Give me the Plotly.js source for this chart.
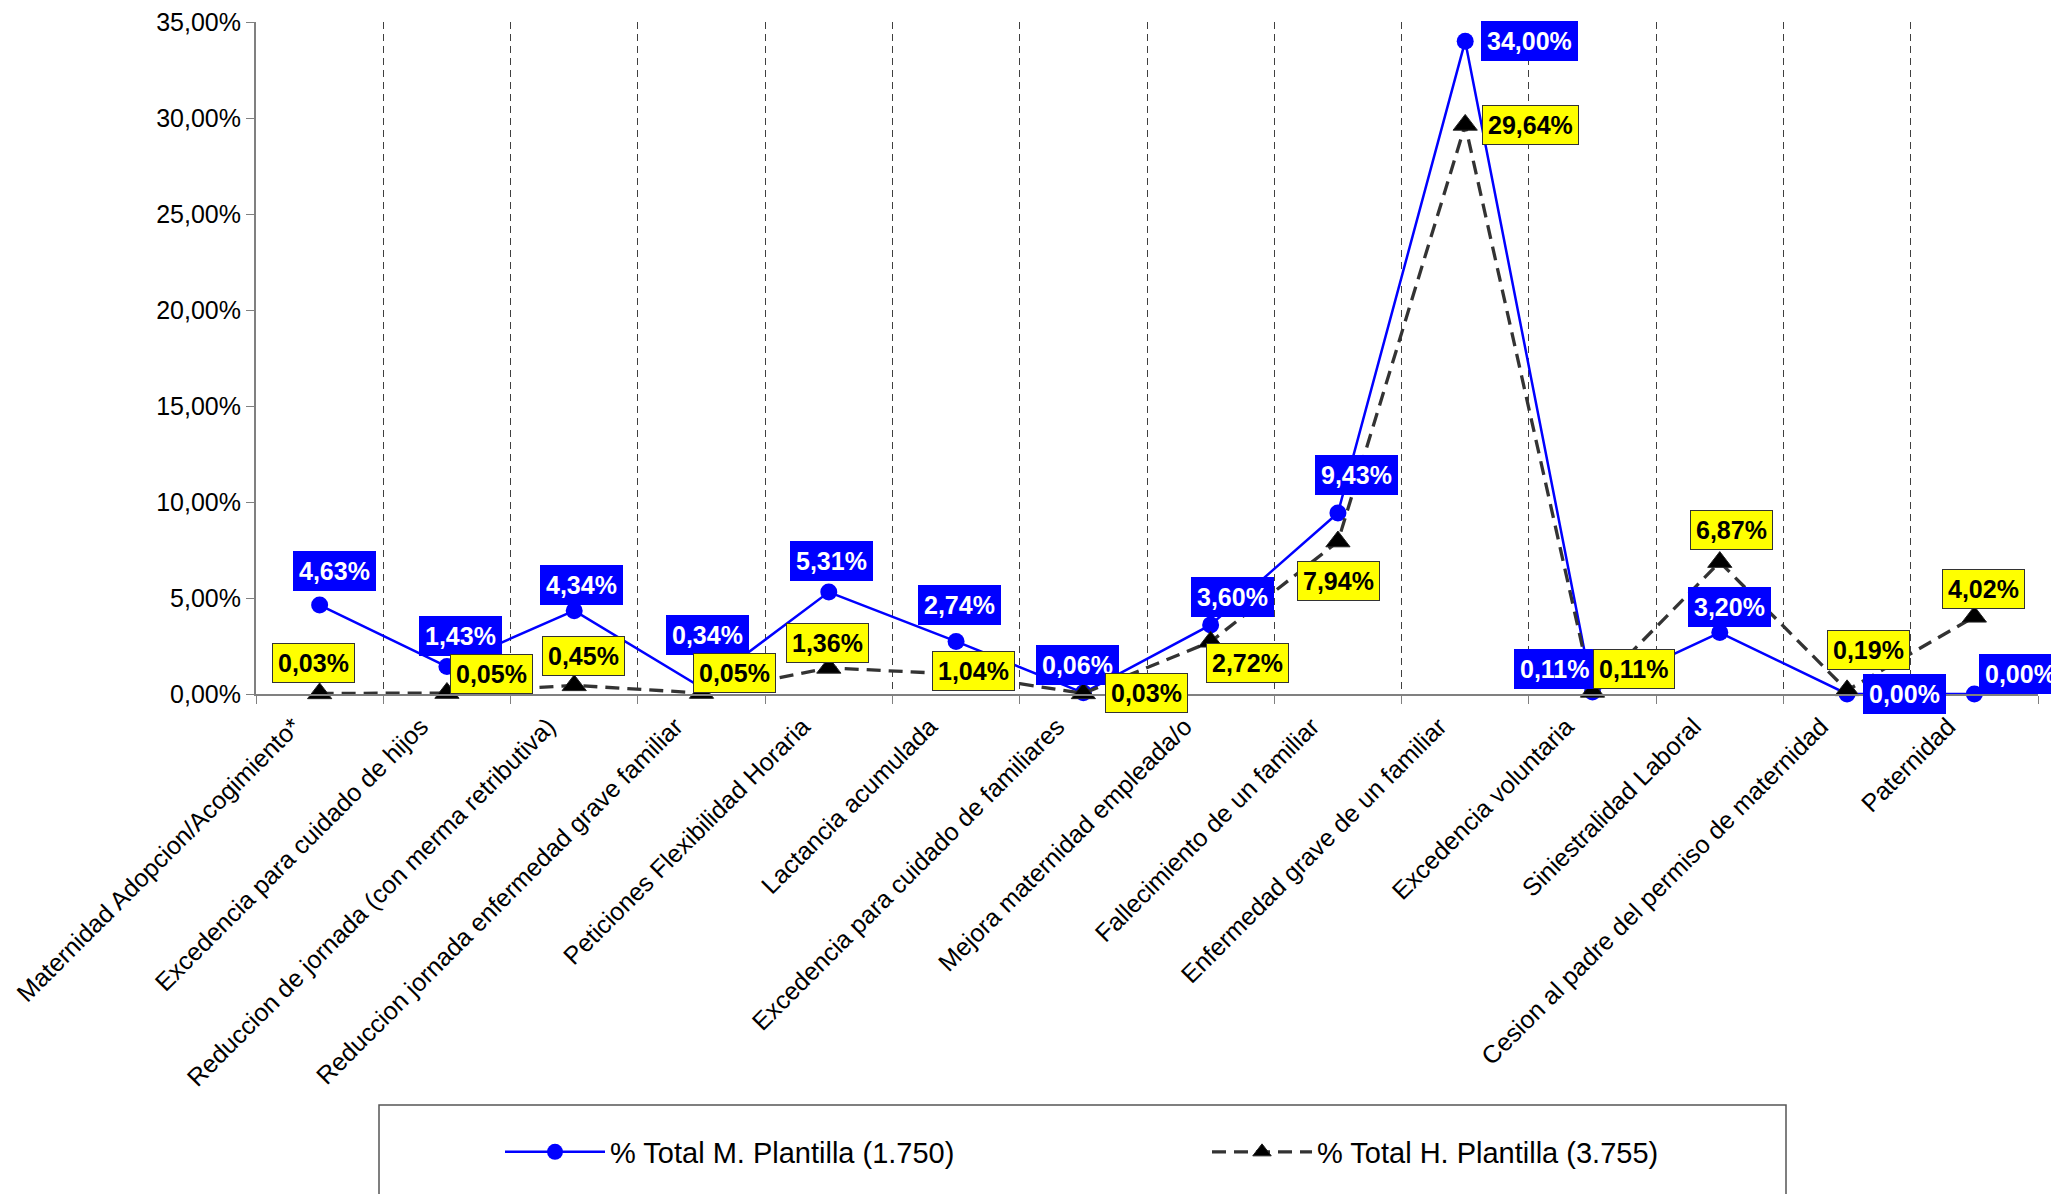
<!DOCTYPE html>
<html><head><meta charset="utf-8">
<script src="https://cdn.plot.ly/plotly-3.0.1.min.js"></script>
<style>html,body{margin:0;padding:0;background:#fff;} #chart{width:2051px;height:1194px;}</style>
</head><body><div id="chart"></div>
<script>
const categories = [
  'Maternidad Adopcion/Acogimiento*',
  'Excedencia para cuidado de hijos',
  'Reduccion de jornada (con merma retributiva)',
  'Reduccion jornada enfermedad grave familiar',
  'Peticiones Flexibilidad Horaria',
  'Lactancia acumulada',
  'Excedencia para cuidado de familiares',
  'Mejora maternidad empleada/o',
  'Fallecimiento de un familiar',
  'Enfermedad grave de un familiar',
  'Excedencia voluntaria',
  'Siniestralidad Laboral',
  'Cesion al padre del permiso de maternidad',
  'Paternidad'
];
const totalM = [4.63, 1.43, 4.34, 0.34, 5.31, 2.74, 0.06, 3.60, 9.43, 34.00, 0.11, 3.20, 0.00, 0.00];
const totalH = [0.03, 0.05, 0.45, 0.05, 1.36, 1.04, 0.03, 2.72, 7.94, 29.64, 0.11, 6.87, 0.19, 4.02];
const seriesNames = ['% Total M. Plantilla (1.750)', '% Total H. Plantilla (3.755)'];
const yTicks = [0, 5, 10, 15, 20, 25, 30, 35];

// Label placement offsets in px (dx right, dy down) - layout only
const mLabelShift = [[15,-34],[14,-31],[7,-26],[6,-52],[3,-31],[3,-36],[-6,-28],[22,-28],[19,-38],[64,0],[-38,-23],[10,-26],[57,0],[46,-20]];
const hLabelShift = [[-6,-30],[45,-19],[9,-29],[33,-20],[-1,-25],[17,-3],[63,0],[37,21],[1,39],[65,0],[41,-23],[12,-32],[21,-40],[9,-28]];

const fmt = v => v.toFixed(2).replace('.', ',') + '%';
const FONT = 'Arial, "Liberation Sans", sans-serif';

const traceM = {
  type: 'scatter', mode: 'lines+markers', name: seriesNames[0],
  x: categories, y: totalM, cliponaxis: false,
  line: {color: '#0000FF', width: 2.5},
  marker: {symbol: 'circle', size: 17, color: '#0000FF'}
};
const traceH = {
  type: 'scatter', mode: 'lines+markers', name: seriesNames[1],
  x: categories, y: totalH, cliponaxis: false,
  line: {color: '#333333', width: 3.3, dash: '14px,8px'},
  marker: {symbol: 'triangle-up', size: 21, color: '#000000', line: {color: '#222', width: 1}}
};

const annotations = [];
categories.forEach((c, i) => {
  annotations.push({
    x: c, y: totalM[i], xref: 'x', yref: 'y', text: '<b>' + fmt(totalM[i]) + '</b>',
    showarrow: false, xshift: mLabelShift[i][0], yshift: -mLabelShift[i][1],
    bgcolor: '#0000FF', bordercolor: '#0000FF', borderwidth: 1, borderpad: 5,
    font: {family: FONT, size: 25, color: '#FFFFFF'}
  });
});
categories.forEach((c, i) => {
  annotations.push({
    x: c, y: totalH[i], xref: 'x', yref: 'y', text: '<b>' + fmt(totalH[i]) + '</b>',
    showarrow: false, xshift: hLabelShift[i][0], yshift: -hLabelShift[i][1],
    bgcolor: '#FFFF00', bordercolor: '#333333', borderwidth: 1, borderpad: 5,
    font: {family: FONT, size: 25, color: '#000000'}
  });
});

const L = 256, R = 13, T = 22, B = 500, W = 2051, H = 1194;
const pw = W - L - R, ph = H - T - B;
const px2x = p => (p - L) / pw;
const py2y = p => (H - B - p) / ph;

const layout = {
  width: W, height: H,
  margin: {l: L, r: R, t: T, b: B, pad: 0},
  paper_bgcolor: '#FFFFFF', plot_bgcolor: '#FFFFFF',
  separators: ',.',
  font: {family: FONT, color: '#000'},
  showlegend: true,
  xaxis: {
    type: 'category', range: [-0.5, categories.length - 0.5],
    tickson: 'boundaries', showgrid: true, gridcolor: '#404040', gridwidth: 1, griddash: '7px,5px',
    ticks: 'outside', ticklen: 8, tickcolor: '#808080', tickwidth: 1,
    showline: true, linecolor: '#808080', linewidth: 2,
    tickangle: -45, tickfont: {family: FONT, size: 25, color: '#000'},
    ticklabelshift: -26, ticklabelstandoff: 6,
    zeroline: false, fixedrange: true
  },
  yaxis: {
    range: [0, 35], tickmode: 'array', tickvals: yTicks, ticktext: yTicks.map(fmt),
    showgrid: false, zeroline: false,
    showline: true, linecolor: '#808080', linewidth: 2,
    ticks: 'outside', ticklen: 8, tickcolor: '#808080', tickwidth: 1,
    tickfont: {family: FONT, size: 25, color: '#000'}
  },
  legend: {
    orientation: 'h', x: px2x(500), xanchor: 'left', y: py2y(1152), yanchor: 'middle',
    font: {family: FONT, size: 29, color: '#000'},
    itemwidth: 100, entrywidth: 592, entrywidthmode: 'pixels',
    bgcolor: 'rgba(0,0,0,0)', borderwidth: 0
  },
  shapes: [{
    type: 'rect', xref: 'paper', yref: 'paper', layer: 'below',
    x0: px2x(379), x1: px2x(1786), y0: py2y(1105), y1: py2y(1230),
    line: {color: '#555555', width: 1.5}, fillcolor: 'rgba(0,0,0,0)'
  }],
  annotations: annotations
};

Plotly.newPlot('chart', [traceM, traceH], layout, {displayModeBar: false, staticPlot: true});
</script>
</body></html>
